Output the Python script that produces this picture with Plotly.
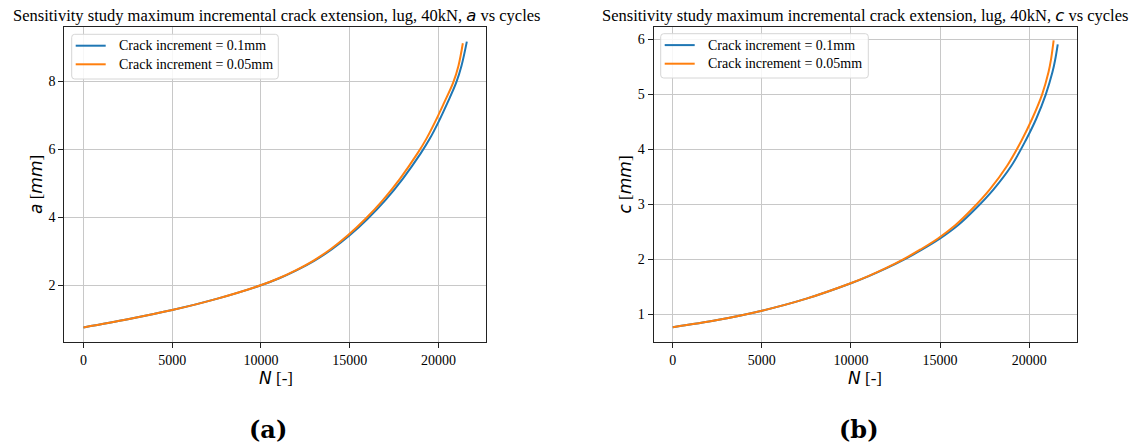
import plotly.graph_objects as go

W, H = 1136, 446

# ---------------- data ----------------
# (a) crack length a [mm] vs cycles N
N_a_01 = [0, 2500, 5000, 7500, 10000, 11000, 12000, 13000, 14000, 15000, 16000,
          17000, 18000, 19000, 19500, 20000, 20500, 21000, 21300, 21600]
a_01 = [0.76, 1.00, 1.27, 1.60, 2.00, 2.20, 2.44, 2.72, 3.06, 3.47, 3.95,
        4.50, 5.14, 5.88, 6.30, 6.80, 7.36, 7.96, 8.46, 9.17]
N_a_005 = [0, 2500, 5000, 7500, 9980, 10970, 11955, 12940, 13920, 14900, 15880,
           16860, 17840, 18820, 19310, 19805, 20310, 20830, 21130, 21375]
a_005 = [0.76, 1.00, 1.27, 1.60, 2.00, 2.20, 2.44, 2.72, 3.06, 3.47, 3.95,
         4.50, 5.14, 5.88, 6.30, 6.80, 7.36, 7.96, 8.46, 9.12]

# (b) crack length c [mm] vs cycles N
N_c_01 = [0, 2500, 5000, 7500, 10000, 11000, 12000, 13000, 14000, 15000, 16000,
          17000, 18000, 19000, 19800, 20400, 20930, 21300, 21450, 21600]
c_01 = [0.76, 0.89, 1.06, 1.28, 1.56, 1.69, 1.835, 1.995, 2.175, 2.375, 2.615,
        2.92, 3.27, 3.70, 4.16, 4.56, 5.00, 5.40, 5.62, 5.91]
N_c_005 = [0, 2500, 5000, 7500, 9980, 10970, 11950, 12930, 13900, 14880, 15850,
           16820, 17790, 18760, 19570, 20170, 20725, 21080, 21230, 21370]
c_005 = [0.76, 0.89, 1.06, 1.28, 1.56, 1.69, 1.835, 1.995, 2.175, 2.375, 2.615,
         2.92, 3.27, 3.70, 4.16, 4.56, 5.00, 5.40, 5.65, 5.98]

series_names = ["Crack increment = 0.1mm", "Crack increment = 0.05mm"]
colors = ["#1f77b4", "#ff7f0e"]
x_ticks = [0, 5000, 10000, 15000, 20000]
x_ticktext = ["0", "5000", "10000", "15000", "20000"]

# ---------------- helpers ----------------
def px(x):
    return x / W

def py(y):
    return 1 - y / H

SERIF = "Liberation Serif"
SANS_I = '<span style="font-family:DejaVu Sans"><i>{}</i></span>'

fig = go.Figure()

for N, v, name, col in [(N_a_01, a_01, series_names[0], colors[0]),
                        (N_a_005, a_005, series_names[1], colors[1])]:
    fig.add_trace(go.Scatter(x=N, y=v, mode="lines", name=name, showlegend=False,
                             line=dict(color=col, width=2, shape="spline", smoothing=1.0),
                             xaxis="x", yaxis="y"))
for N, v, name, col in [(N_c_01, c_01, series_names[0], colors[0]),
                        (N_c_005, c_005, series_names[1], colors[1])]:
    fig.add_trace(go.Scatter(x=N, y=v, mode="lines", name=name, showlegend=False,
                             line=dict(color=col, width=2, shape="spline", smoothing=1.0),
                             xaxis="x2", yaxis="y2"))

axis_common = dict(showline=True, linecolor="#222222", linewidth=1, mirror=True,
                   ticks="outside", ticklen=5, tickwidth=1, tickcolor="#222222",
                   showgrid=True, gridcolor="#c8c8c8", gridwidth=1, zeroline=False,
                   tickfont=dict(family=SERIF, size=14, color="black"))

x1_dom = [px(64.3), px(486)]
x2_dom = [px(653.5), px(1077)]
y_dom = [py(341.7), py(27.3)]

fig.update_layout(
    width=W, height=H,
    margin=dict(l=0, r=0, t=0, b=0),
    paper_bgcolor="white", plot_bgcolor="white",
    showlegend=False,
    xaxis=dict(domain=x1_dom, range=[-1080, 22680], tickvals=x_ticks, ticktext=x_ticktext,
               anchor="y", **axis_common),
    yaxis=dict(domain=y_dom, range=[0.34, 9.59], dtick=2, tick0=0, anchor="x", **axis_common),
    xaxis2=dict(domain=x2_dom, range=[-1080, 22680], tickvals=x_ticks, ticktext=x_ticktext,
                anchor="y2", **axis_common),
    yaxis2=dict(domain=y_dom, range=[0.496, 6.22], dtick=1, tick0=0, anchor="x2", **axis_common),
)

# ---------------- manual legends (rounded box, samples, text) ----------------
shapes = []
annots = []

def rounded_box(x0, y0, x1, y1, r=3):
    X0, X1 = px(x0), px(x1)
    Y0, Y1 = py(y0), py(y1)  # Y0 top, Y1 bottom (paper)
    rx, ry = r / W, r / H
    path = (f"M {X0+rx},{Y0} L {X1-rx},{Y0} Q {X1},{Y0} {X1},{Y0-ry} "
            f"L {X1},{Y1+ry} Q {X1},{Y1} {X1-rx},{Y1} "
            f"L {X0+rx},{Y1} Q {X0},{Y1} {X0},{Y1+ry} "
            f"L {X0},{Y0-ry} Q {X0},{Y0} {X0+rx},{Y0} Z")
    return dict(type="path", path=path, xref="paper", yref="paper",
                line=dict(color="#d6d6d6", width=1), fillcolor="rgba(255,255,255,0.85)",
                layer="above")

for (bx0, by0, bx1, by1) in [(71.7, 34.3, 278.3, 79.0), (660.7, 33.7, 868.3, 78.0)]:
    shapes.append(rounded_box(bx0, by0, bx1, by1))
    rows = [by0 + 11.4, by0 + 30.0]
    for ry_, col, name in zip(rows, colors, series_names):
        shapes.append(dict(type="line", xref="paper", yref="paper",
                           x0=px(bx0 + 4), x1=px(bx0 + 34), y0=py(ry_), y1=py(ry_),
                           line=dict(color=col, width=2), layer="above"))
        annots.append(dict(text=name, x=px(bx0 + 45), y=py(ry_), xanchor="left",
                           yanchor="middle",
                           font=dict(family=SERIF, size=14, color="black")))

# titles
annots.append(dict(text="Sensitivity study maximum incremental crack extension, lug, 40kN, "
                        + SANS_I.format("a") + " vs cycles",
                   x=px(276.5), y=py(15.5), xanchor="center", yanchor="middle",
                   font=dict(family=SERIF, size=16.5, color="black")))
annots.append(dict(text="Sensitivity study maximum incremental crack extension, lug, 40kN, "
                        + SANS_I.format("c") + " vs cycles",
                   x=px(865), y=py(15.5), xanchor="center", yanchor="middle",
                   font=dict(family=SERIF, size=16.5, color="black")))
# x axis titles
for cx in [276, 865]:
    annots.append(dict(text=SANS_I.format("N") + " [-]", x=px(cx), y=py(378),
                       xanchor="center", yanchor="middle",
                       font=dict(family=SERIF, size=17, color="black")))
# y axis titles
annots.append(dict(text=SANS_I.format("a") + " [" + SANS_I.format("mm") + "]",
                   x=px(36.5), y=py(184.5), xanchor="center", yanchor="middle", textangle=-90,
                   font=dict(family=SERIF, size=17, color="black")))
annots.append(dict(text=SANS_I.format("c") + " [" + SANS_I.format("mm") + "]",
                   x=px(625), y=py(184.5), xanchor="center", yanchor="middle", textangle=-90,
                   font=dict(family=SERIF, size=17, color="black")))
# sub-figure labels
annots.append(dict(text="<b>(a)</b>", x=px(267.5), y=py(429), xanchor="center", yanchor="middle",
                   font=dict(family="DejaVu Serif", size=24, color="black")))
annots.append(dict(text="<b>(b)</b>", x=px(858.5), y=py(429), xanchor="center", yanchor="middle",
                   font=dict(family="DejaVu Serif", size=24, color="black")))

for a in annots:
    a.update(xref="paper", yref="paper", showarrow=False)
fig.update_layout(annotations=annots, shapes=shapes)

fig.write_html("out.html")
